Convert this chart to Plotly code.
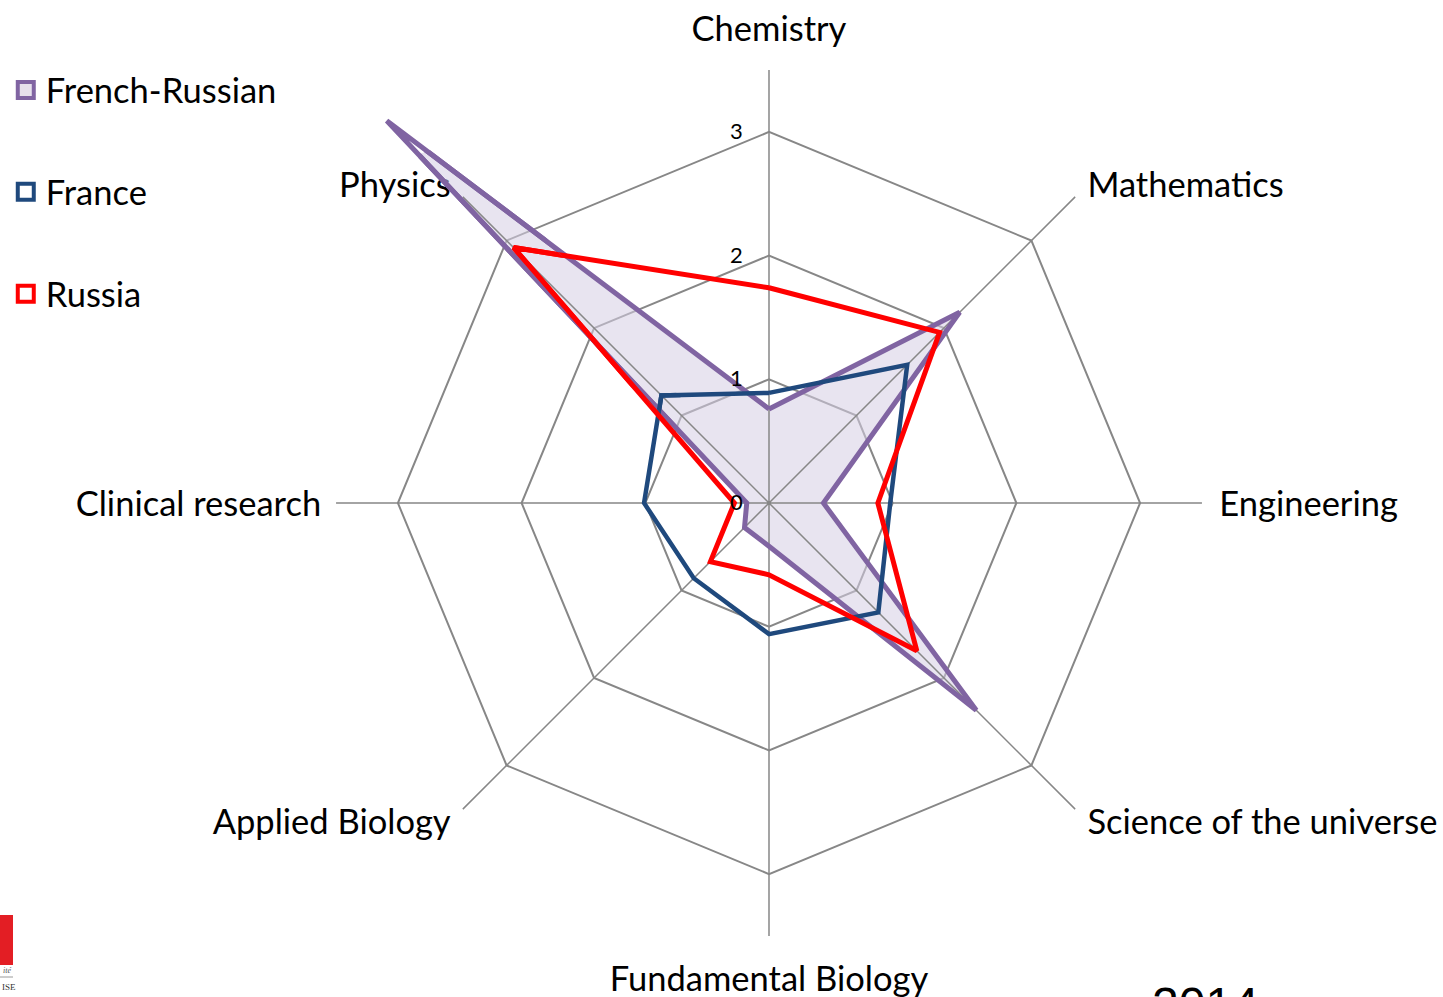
import math
import plotly.graph_objects as go

# ---------------- data ----------------
categories = ["Chemistry", "Mathematics", "Engineering", "Science of the universe",
              "Fundamental Biology", "Applied Biology", "Clinical research", "Physics"]
french_russian = [0.76, 2.18, 0.44, 2.37, 0.35, 0.28, 0.18, 4.37]
france = [0.89, 1.58, 0.98, 1.25, 1.06, 0.86, 1.01, 1.23]
russia = [1.74, 1.95, 0.88, 1.69, 0.58, 0.67, 0.28, 2.92]
series_names = ["French-Russian", "France", "Russia"]
radial_ticks = [0, 1, 2, 3]

# ---------------- layout / style ----------------
W, H = 1443, 997
S = 123.7              # px per radial unit
CX, CY = 769, 503      # centre of the radar, px from top-left
LABEL_DY = 4           # category labels sit a few px lower than the radar centre line
RM_LAB = 3.85          # extent of the (invisible) label subplot
RM1 = 3.99             # main subplot radial extent (grid, ticks)
RM2 = 4.42             # extension wedge so the Physics spike is not clipped
SECTOR2 = [130, 140]   # wedge around the Physics spoke (standard degrees)
FONT = "Lato"
GRID = "#878787"
PURPLE = "#8064A2"
BLUE = "#1F497D"
RED = "#FF0000"
FILL = "rgba(214,205,228,0.55)"
CLEAR = "rgba(0,0,0,0)"

label_r = [3.84, 3.64, 3.64, 3.64, 3.84, 3.64, 3.62, 3.64]
label_pos = ["middle center", "middle right", "middle right", "middle right",
             "middle center", "middle left", "middle left", "middle left"]
spoke_r = 3.5


def closed(vals):
    return list(vals) + [vals[0]]


def dom_x(x0, x1):
    return [max(0.0, x0 / W), min(1.0, x1 / W)]


def dom_y(y_top, y_bot):
    return [max(0.0, (H - y_bot) / H), min(1.0, (H - y_top) / H)]


cats_closed = closed(categories)
series = [(series_names[0], french_russian, PURPLE, 5),
          (series_names[1], france, BLUE, 4.5),
          (series_names[2], russia, RED, 5)]

fig = go.Figure()

# ---- label subplot (drawn first, below the data) ----
fig.add_trace(go.Scatterpolar(
    r=label_r, theta=categories, mode="text", text=categories,
    textposition=label_pos, textfont=dict(family=FONT, size=34.5, color="#000000"),
    cliponaxis=False, showlegend=False, hoverinfo="skip", subplot="polar"))

# ---- main subplot ----
fig.add_trace(go.Scatterpolar(
    r=closed(french_russian), theta=cats_closed, mode="lines", fill="toself",
    fillcolor=FILL, line=dict(width=0, color=PURPLE), showlegend=False,
    hoverinfo="skip", subplot="polar2"))

spoke_rr, spoke_tt = [], []
for c in categories:
    spoke_rr += [spoke_r, 0]
    spoke_tt += [c, c]
fig.add_trace(go.Scatterpolar(
    r=spoke_rr, theta=spoke_tt, mode="lines", line=dict(color=GRID, width=1.5),
    showlegend=False, hoverinfo="skip", subplot="polar2"))

for name, vals, col, wdt in series:
    fig.add_trace(go.Scatterpolar(
        r=closed(vals), theta=cats_closed, mode="lines", name=name,
        line=dict(color=col, width=wdt), showlegend=False, subplot="polar2"))

# ---- wedge subplot (same centre & scale) carrying the long Physics spike ----
for name, vals, col, wdt in series:
    fig.add_trace(go.Scatterpolar(
        r=closed(vals), theta=cats_closed, mode="lines", name=name,
        line=dict(color=col, width=wdt), showlegend=False, hoverinfo="skip",
        subplot="polar3"))

# ---- legend entries ----
for i, (name, col, inner) in enumerate([(series_names[0], PURPLE, "#E6E0EC"),
                                        (series_names[1], BLUE, "#FFFFFF"),
                                        (series_names[2], RED, "#FFFFFF")]):
    fig.add_trace(go.Scatterpolar(
        r=[None], theta=[categories[0]], mode="markers", name=name, legendgroup=f"g{i}",
        marker=dict(symbol="square", size=16, color=inner, line=dict(color=col, width=4)),
        subplot="polar2"))

R_LAB = RM_LAB * S
R1 = RM1 * S
R2 = RM2 * S
half2 = R2 * max(abs(math.cos(math.radians(a))) for a in SECTOR2)

angular_common = dict(type="category", categoryorder="array", categoryarray=categories,
                      direction="clockwise", rotation=90, showline=False,
                      showgrid=False, showticklabels=False, ticks="")
hidden_radial = dict(visible=False, showgrid=False, showline=False,
                     showticklabels=False, ticks="")

fig.update_layout(
    width=W, height=H,
    margin=dict(l=0, r=0, t=0, b=0, pad=0),
    paper_bgcolor="white", plot_bgcolor="white",
    font=dict(family=FONT, color="#000000"),
    polar=dict(
        domain=dict(x=dom_x(CX - R_LAB, CX + R_LAB),
                    y=dom_y(CY + LABEL_DY - R_LAB, CY + LABEL_DY + R_LAB)),
        bgcolor=CLEAR,
        radialaxis=dict(hidden_radial, range=[0, RM_LAB]),
        angularaxis=dict(angular_common, visible=False),
    ),
    polar2=dict(
        domain=dict(x=dom_x(CX - R1, CX + R1), y=dom_y(CY - R1, CY + R1)),
        bgcolor=CLEAR,
        gridshape="linear",
        radialaxis=dict(
            range=[0, RM1], tickvals=radial_ticks, ticktext=[str(t) for t in radial_ticks],
            angle=90, side="counterclockwise", tickangle=90,
            showline=False, showgrid=True, gridcolor=GRID, gridwidth=1.5,
            ticks="outside", ticklen=18, tickcolor=CLEAR,
            tickfont=dict(family=FONT, size=22, color="#000000")),
        angularaxis=angular_common,
    ),
    polar3=dict(
        domain=dict(x=dom_x(CX - half2, CX), y=dom_y(CY - half2, CY)),
        sector=SECTOR2,
        bgcolor=CLEAR,
        gridshape="linear",
        radialaxis=dict(hidden_radial, range=[0, RM2]),
        angularaxis=dict(angular_common, visible=False),
    ),
    legend=dict(
        x=0.004, y=1 - 61 / H, xanchor="left", yanchor="top",
        font=dict(family=FONT, size=34.5, color="#000000"),
        tracegroupgap=54, bgcolor=CLEAR, itemclick=False),
    showlegend=True,
)

# ---- slide fragments at the edges (logo piece and year) ----
fig.add_shape(type="rect", xref="paper", yref="paper",
              x0=0, x1=13 / W, y0=(H - 965) / H, y1=(H - 915) / H,
              fillcolor="#E31E24", line=dict(width=0))
fig.add_shape(type="line", xref="paper", yref="paper",
              x0=0, x1=13 / W, y0=(H - 977) / H, y1=(H - 977) / H,
              line=dict(color="#9A9A9A", width=1))
fig.add_annotation(text="<i>ité</i>", xref="paper", yref="paper", x=1 / W, y=(H - 970) / H,
                   xanchor="left", yanchor="middle", showarrow=False,
                   font=dict(family="Liberation Serif", size=8, color="#555555"))
fig.add_annotation(text="ISE", xref="paper", yref="paper", x=0, y=(H - 987) / H,
                   xanchor="left", yanchor="middle", showarrow=False,
                   font=dict(family="Liberation Serif", size=9, color="#333333"))
fig.add_annotation(text="2014", xref="paper", yref="paper", x=1150 / W, y=(H - 976) / H,
                   xanchor="left", yanchor="top", showarrow=False,
                   font=dict(family="Liberation Sans", size=48, color="#000000"))

fig.write_html("out.html", config={"displayModeBar": False},
               post_script="document.body.style.margin='0px';")
